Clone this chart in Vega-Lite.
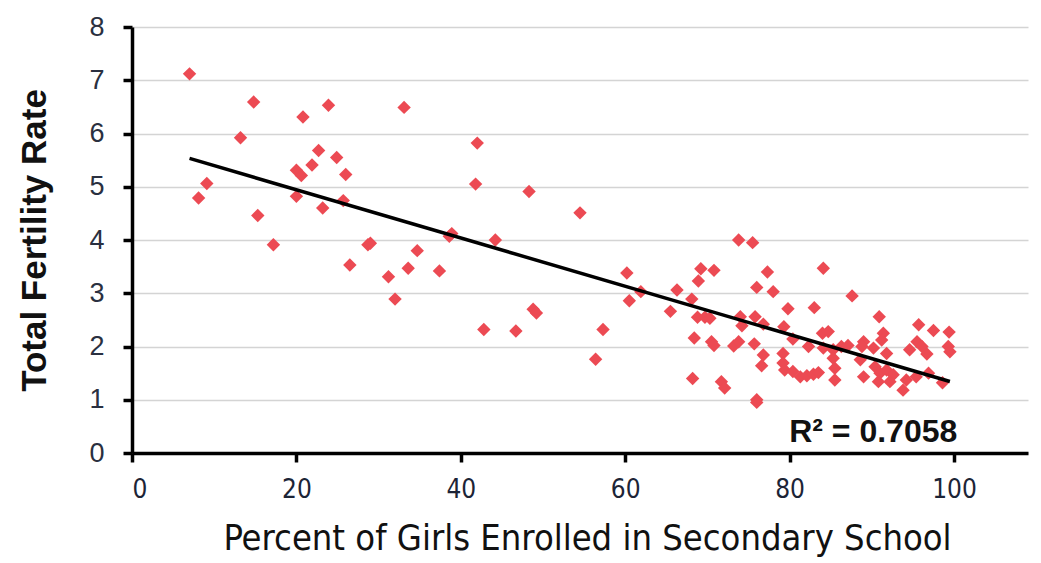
{
  "$schema": "https://vega.github.io/schema/vega-lite/v6.json",
  "autosize": "none",
  "width": 896,
  "height": 426,
  "padding": {"left": 132, "top": 27, "right": 13, "bottom": 110},
  "background": "white",
  "config": {
    "view": {"stroke": null},
    "axis": {"domainColor": "black", "tickColor": "black", "labelColor": "#1c2436", "titleColor": "#111111"}
  },
  "datasets": {
    "pts": [
      {"girls": 7.0, "tfr": 7.12}, {"girls": 8.1, "tfr": 4.79}, {"girls": 9.1, "tfr": 5.06}, {"girls": 13.2, "tfr": 5.92},
      {"girls": 14.8, "tfr": 6.59}, {"girls": 15.3, "tfr": 4.46}, {"girls": 17.2, "tfr": 3.91}, {"girls": 20.0, "tfr": 5.31},
      {"girls": 20.6, "tfr": 5.21}, {"girls": 20.0, "tfr": 4.82}, {"girls": 20.8, "tfr": 6.31}, {"girls": 21.9, "tfr": 5.41},
      {"girls": 22.7, "tfr": 5.68}, {"girls": 23.2, "tfr": 4.6}, {"girls": 23.9, "tfr": 6.53}, {"girls": 24.9, "tfr": 5.55},
      {"girls": 25.7, "tfr": 4.74}, {"girls": 26.0, "tfr": 5.23}, {"girls": 26.5, "tfr": 3.53}, {"girls": 28.7, "tfr": 3.91},
      {"girls": 29.0, "tfr": 3.94}, {"girls": 31.2, "tfr": 3.31}, {"girls": 32.0, "tfr": 2.89}, {"girls": 33.1, "tfr": 6.49},
      {"girls": 33.6, "tfr": 3.47}, {"girls": 34.7, "tfr": 3.8}, {"girls": 37.4, "tfr": 3.42}, {"girls": 38.6, "tfr": 4.07},
      {"girls": 38.9, "tfr": 4.12}, {"girls": 41.8, "tfr": 5.05}, {"girls": 42.0, "tfr": 5.82}, {"girls": 42.8, "tfr": 2.32},
      {"girls": 44.2, "tfr": 4.0}, {"girls": 46.7, "tfr": 2.29}, {"girls": 48.3, "tfr": 4.91}, {"girls": 48.8, "tfr": 2.7},
      {"girls": 49.2, "tfr": 2.63}, {"girls": 54.5, "tfr": 4.51}, {"girls": 56.4, "tfr": 1.76}, {"girls": 57.3, "tfr": 2.32},
      {"girls": 60.2, "tfr": 3.38}, {"girls": 60.5, "tfr": 2.86}, {"girls": 61.9, "tfr": 3.03}, {"girls": 65.5, "tfr": 2.66},
      {"girls": 66.3, "tfr": 3.06},
      {"girls": 73.8, "tfr": 4.0}, {"girls": 75.5, "tfr": 3.95}, {"girls": 69.2, "tfr": 3.46}, {"girls": 70.8, "tfr": 3.43},
      {"girls": 68.9, "tfr": 3.23}, {"girls": 77.3, "tfr": 3.4}, {"girls": 76.0, "tfr": 3.11}, {"girls": 78.0, "tfr": 3.03},
      {"girls": 84.1, "tfr": 3.47}, {"girls": 87.6, "tfr": 2.95}, {"girls": 68.1, "tfr": 2.89}, {"girls": 79.8, "tfr": 2.71},
      {"girls": 83.0, "tfr": 2.73}, {"girls": 90.9, "tfr": 2.56}, {"girls": 68.8, "tfr": 2.55}, {"girls": 69.7, "tfr": 2.55},
      {"girls": 70.3, "tfr": 2.53}, {"girls": 74.0, "tfr": 2.56}, {"girls": 75.8, "tfr": 2.56}, {"girls": 74.2, "tfr": 2.39},
      {"girls": 76.8, "tfr": 2.42}, {"girls": 79.3, "tfr": 2.37}, {"girls": 84.0, "tfr": 2.25}, {"girls": 84.7, "tfr": 2.28},
      {"girls": 80.4, "tfr": 2.14}, {"girls": 95.7, "tfr": 2.41}, {"girls": 97.5, "tfr": 2.3}, {"girls": 99.4, "tfr": 2.27},
      {"girls": 91.4, "tfr": 2.25}, {"girls": 91.2, "tfr": 2.12}, {"girls": 68.4, "tfr": 2.16}, {"girls": 70.5, "tfr": 2.09},
      {"girls": 70.8, "tfr": 2.02}, {"girls": 73.2, "tfr": 2.01}, {"girls": 73.8, "tfr": 2.09}, {"girls": 75.7, "tfr": 2.05},
      {"girls": 82.3, "tfr": 2.0}, {"girls": 84.1, "tfr": 1.97}, {"girls": 85.3, "tfr": 1.94}, {"girls": 86.3, "tfr": 2.0},
      {"girls": 87.1, "tfr": 2.02}, {"girls": 89.0, "tfr": 2.09}, {"girls": 88.8, "tfr": 2.0}, {"girls": 90.2, "tfr": 1.97},
      {"girls": 94.6, "tfr": 1.94}, {"girls": 95.5, "tfr": 2.09}, {"girls": 96.1, "tfr": 2.0}, {"girls": 96.7, "tfr": 1.86},
      {"girls": 99.3, "tfr": 2.0}, {"girls": 99.5, "tfr": 1.9}, {"girls": 91.8, "tfr": 1.87}, {"girls": 76.8, "tfr": 1.84},
      {"girls": 76.6, "tfr": 1.64}, {"girls": 79.2, "tfr": 1.87}, {"girls": 79.2, "tfr": 1.69}, {"girls": 79.4, "tfr": 1.56},
      {"girls": 80.4, "tfr": 1.53}, {"girls": 81.3, "tfr": 1.43}, {"girls": 82.1, "tfr": 1.45}, {"girls": 82.9, "tfr": 1.48},
      {"girls": 83.5, "tfr": 1.51}, {"girls": 85.3, "tfr": 1.78}, {"girls": 85.5, "tfr": 1.59}, {"girls": 85.5, "tfr": 1.37},
      {"girls": 88.6, "tfr": 1.75}, {"girls": 89.0, "tfr": 1.43}, {"girls": 90.4, "tfr": 1.62}, {"girls": 91.0, "tfr": 1.5},
      {"girls": 91.8, "tfr": 1.56}, {"girls": 92.6, "tfr": 1.47}, {"girls": 90.8, "tfr": 1.34}, {"girls": 92.2, "tfr": 1.34},
      {"girls": 93.8, "tfr": 1.18}, {"girls": 94.2, "tfr": 1.37}, {"girls": 95.4, "tfr": 1.43}, {"girls": 96.9, "tfr": 1.5},
      {"girls": 98.6, "tfr": 1.32}, {"girls": 68.2, "tfr": 1.4}, {"girls": 71.7, "tfr": 1.34}, {"girls": 72.1, "tfr": 1.22},
      {"girls": 76.0, "tfr": 1.0}, {"girls": 76.0, "tfr": 0.95}
    ],
    "label": [{"girls": 100.4, "tfr": 0.4, "text": "R² = 0.7058"}]
  },
  "layer": [
    {
      "data": {"name": "pts"},
      "mark": {"type": "point", "shape": "diamond", "filled": true, "size": 180, "color": "#ec4a53", "opacity": 1},
      "encoding": {
        "x": {
          "field": "girls", "type": "quantitative",
          "scale": {"domain": [0, 109], "nice": false, "zero": true},
          "axis": {
            "values": [0, 20, 40, 60, 80, 100], "grid": false,
            "domainWidth": 3.5, "tickWidth": 3.5, "tickSize": 9,
            "labelFont": "DejaVu Sans Condensed", "labelFontSize": 26, "labelPadding": 14,
            "labelColor": "#1c2436",
            "title": "Percent of Girls Enrolled in Secondary School",
            "titleFont": "DejaVu Sans Condensed", "titleFontSize": 36, "titleFontWeight": "normal",
            "titlePadding": 19, "titleColor": "#111111", "titleX": 455
          }
        },
        "y": {
          "field": "tfr", "type": "quantitative",
          "scale": {"domain": [0, 8], "nice": false},
          "axis": {
            "values": [0, 1, 2, 3, 4, 5, 6, 7, 8], "grid": true, "gridColor": "#d4d4d4", "gridWidth": 1.5,
            "domainWidth": 3.5, "tickWidth": 3.5, "tickSize": 9,
            "labelFont": "Liberation Sans", "labelFontSize": 27, "labelPadding": 19,
            "labelColor": "#2a3040",
            "title": "Total Fertility Rate",
            "titleFont": "Liberation Sans", "titleFontSize": 35, "titleFontWeight": "bold",
            "titlePadding": 36, "titleColor": "#111111"
          }
        }
      }
    },
    {
      "data": {"name": "pts"},
      "transform": [{"regression": "tfr", "on": "girls"}],
      "mark": {"type": "line", "color": "black", "strokeWidth": 3.5},
      "encoding": {
        "x": {"field": "girls", "type": "quantitative"},
        "y": {"field": "tfr", "type": "quantitative"}
      }
    },
    {
      "data": {"name": "label"},
      "mark": {"type": "text", "align": "right", "baseline": "middle", "font": "Liberation Sans", "fontSize": 32, "fontWeight": "bold", "color": "#111111"},
      "encoding": {
        "x": {"field": "girls", "type": "quantitative"},
        "y": {"field": "tfr", "type": "quantitative"},
        "text": {"field": "text"}
      }
    }
  ]
}
